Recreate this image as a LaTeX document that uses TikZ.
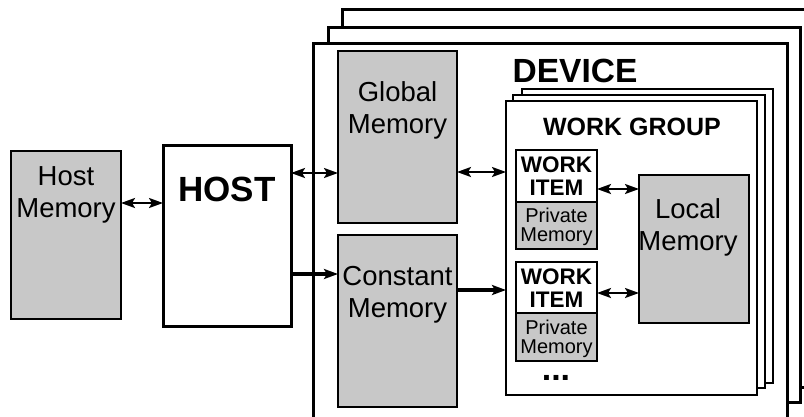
\documentclass[tikz,border=0pt]{standalone}
\usepackage{fontspec}
\setmainfont{Liberation Sans}
\usetikzlibrary{arrows.meta}
\definecolor{memgray}{RGB}{200,200,200}
\tikzset{
  >={Stealth[length=14pt, width=10pt, inset=3pt]},
  devframe/.style={draw, line width=3pt, fill=white, inner sep=0pt, outer sep=0pt},
  wgframe/.style={draw, line width=2pt, fill=white, inner sep=0pt, outer sep=0pt},
  membox/.style={draw, line width=2pt, fill=memgray, inner sep=0pt, outer sep=0pt},
  hostbox/.style={draw, line width=3pt, fill=white, inner sep=0pt, outer sep=0pt},
  itembox/.style={draw, line width=1.4pt, fill=white, inner sep=0pt, outer sep=0pt},
  privbox/.style={draw, line width=1.4pt, fill=memgray, inner sep=0pt, outer sep=0pt},
  memtext/.style={anchor=base, align=center, inner sep=0pt, font=\fontsize{27.5}{31.5}\selectfont},
  itemtext/.style={anchor=base, align=center, inner sep=0pt, font=\bfseries\fontsize{22.5}{23}\selectfont},
  privtext/.style={anchor=base, align=center, inner sep=0pt, font=\fontsize{20}{19}\selectfont},
  link/.style={line width=2.2pt, <->},
  feed/.style={line width=3.6pt, ->},
}
\begin{document}
\begin{tikzpicture}[x=1pt, y=-1pt]
\useasboundingbox (0,0) rectangle (804,416);
\clip (0,0) rectangle (804,416);

% stacked device frames, back to front
\node[devframe, minimum width=478pt, minimum height=378pt] (dev3) at (581,198) {};
\node[devframe, minimum width=472pt, minimum height=375pt] (dev2) at (564,214.5) {};
\node[devframe, minimum width=474pt, minimum height=397pt] (dev1) at (550,241.5) {};
\node[anchor=base, inner sep=0pt, font=\bfseries\fontsize{33.5}{36}\selectfont] (devlabel) at (575,82) {DEVICE};

% host side (multi-line labels are placed by the baseline of their last line)
\node[membox, minimum width=110pt, minimum height=168pt] (hostmem) at (66,235) {};
\node[memtext] (hostmemtext) at (66,217) {Host\\Memory};
\node[hostbox, minimum width=128pt, minimum height=181pt] (host) at (227,235.5) {};
\node[anchor=base, inner sep=0pt, font=\bfseries\fontsize{35}{40}\selectfont] (hosttext) at (227,201) {HOST};

% device memories
\node[membox, minimum width=119pt, minimum height=172pt] (global) at (397.5,137) {};
\node[memtext] (globaltext) at (397.5,133) {Global\\Memory};
\node[membox, minimum width=119pt, minimum height=172pt] (const) at (397.5,321) {};
\node[memtext] (consttext) at (397.5,317) {Constant\\Memory};

% stacked work groups, back to front
\node[wgframe, minimum width=251pt, minimum height=294pt] (wg3) at (647.5,236) {};
\node[wgframe, minimum width=252pt, minimum height=293pt] (wg2) at (639,241.5) {};
\node[wgframe, minimum width=251pt, minimum height=294pt] (wg1) at (631.5,248) {};
\node[anchor=base, inner sep=0pt, font=\bfseries\fontsize{25}{28}\selectfont] (wglabel) at (632,135) {WORK GROUP};

% work items with their private memories
\node[itembox, minimum width=81pt, minimum height=52pt] (item1) at (556.5,176) {};
\node[privbox, minimum width=81pt, minimum height=47pt] (priv1) at (556.5,225.5) {};
\node[itemtext] (item1text) at (556.5,195) {WORK\\ITEM};
\node[privtext] (priv1text) at (556.5,241) {Private\\Memory};

\node[itembox, minimum width=81pt, minimum height=51pt] (item2) at (556.5,287.5) {};
\node[privbox, minimum width=81pt, minimum height=48pt] (priv2) at (556.5,337) {};
\node[itemtext] (item2text) at (556.5,307) {WORK\\ITEM};
\node[privtext] (priv2text) at (556.5,353) {Private\\Memory};

\node[anchor=base, inner sep=0pt, font=\bfseries\fontsize{34}{36}\selectfont] (more) at (556,380) {...};

% local memory
\node[membox, minimum width=110pt, minimum height=148pt] (local) at (694,249) {};
\node[memtext] (localtext) at (688,250) {Local\\Memory};

% connections
\draw[link] (hostmem.east |- 0,203) -- (host.west |- 0,203);
\draw[link] (host.east |- 0,173) -- (global.west |- 0,173);
\draw[feed] (host.east |- 0,274) -- (const.west |- 0,274);
\draw[link] (global.east |- 0,172) -- (wg1.west |- 0,172);
\draw[feed] (const.east |- 0,290) -- (wg1.west |- 0,290);
\draw[link] (item1.east |- 0,189) -- (local.west |- 0,189);
\draw[link] (item2.east |- 0,293) -- (local.west |- 0,293);
\end{tikzpicture}
\end{document}
